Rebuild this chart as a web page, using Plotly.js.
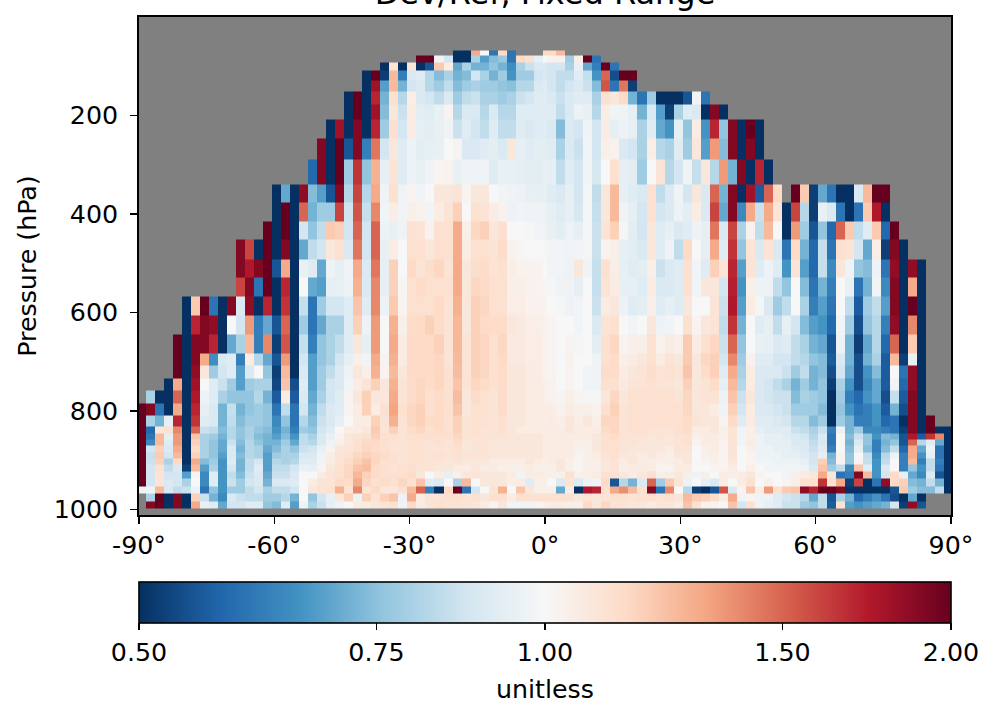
<!DOCTYPE html>
<html>
<head>
<meta charset="utf-8">
<script src="https://cdn.plot.ly/plotly-3.0.1.min.js"></script>
<style>html,body{margin:0;padding:0;background:#fff}#c{width:988px;height:703px}</style>
</head>
<body>
<div id="c"></div>
<script>
// Latitude bin edges (deg) and pressure bin edges (hPa)
const latEdges = [-90,-88.5,-86.5,-84.5,-82.5,-80.5,-78.5,-76.5,-74.5,-72.5,-70.5,-68.5,-66.5,-64.5,-62.5,-60.5,-58.5,-56.5,-54.5,-52.5,-50.5,-48.5,-46.5,-44.5,-42.5,-40.5,-38.5,-36.5,-34.5,-32.5,-30.5,-28.5,-26.5,-24.5,-22.5,-20.5,-18.5,-16.5,-14.5,-12.5,-10.5,-8.5,-6.5,-4.5,-2.5,-0.5,0.5,2.5,4.5,6.5,8.5,10.5,12.5,14.5,16.5,18.5,20.5,22.5,24.5,26.5,28.5,30.5,32.5,34.5,36.5,38.5,40.5,42.5,44.5,46.5,48.5,50.5,52.5,54.5,56.5,58.5,60.5,62.5,64.5,66.5,68.5,70.5,72.5,74.5,76.5,78.5,80.5,82.5,84.5,86.5,88.5,90];
const pressureEdges = [68,78,92,109,129,151,178,208,247,289,340,377,415,452,492,529,568,606,645,683,708,734,758,785,809,831,846,858,870,884,896,909,923,937,953,968,984,998];
// First latitude bin of each row, top of the atmosphere downward
const rowStart = [35,31,27,25,25,23,23,21,20,19,15,15,14,11,11,11,5,5,4,4,4,3,1,0,0,0,0,0,0,0,0,0,0,0,0,1,1];
// Dev/Ref ratio in percent, one array per pressure row
const r01 = [50,50,130,100,60,115,60,null,null,null,115,115,125];
const r02 = [200,200,98,88,50,50,80,68,74,77,60,115,112,94,100,103,103,78,105,200,60];
const r03 = [50,110,50,108,50,55,120,105,70,80,72,72,76,72,65,80,86,90,90,88,88,80,95,70,62,200,60];
const r04 = [50,200,52,125,62,90,92,82,74,80,72,74,88,80,72,78,66,78,78,88,90,88,84,84,92,85,66,150,54,200,200];
const r05 = [50,180,68,125,72,88,90,82,78,84,74,78,80,78,78,76,75,82,82,90,92,88,84,88,90,86,74,155,60,145,52];
const r06 = [50,200,50,170,72,112,82,105,90,88,84,90,78,84,86,80,80,78,80,86,88,92,92,90,86,90,92,92,80,112,108,115,72,60,78,50,50,50,55,97,60];
const r07 = [50,200,50,180,74,108,86,106,93,92,95,102,82,90,90,82,90,82,82,92,92,92,92,92,84,90,96,95,82,105,98,97,94,72,90,68,52,80,92,90,50,190,50];
const r08 = [50,180,50,190,50,170,78,112,88,106,94,93,95,97,86,92,88,84,92,84,84,92,90,92,92,90,74,90,88,97,88,106,94,96,94,80,92,70,66,94,76,106,66,170,76,190,50,200,50];
const r09 = [190,50,200,55,190,62,145,88,108,92,96,93,94,95,100,102,90,90,92,93,90,108,94,92,93,93,92,80,90,86,98,88,104,103,90,88,80,105,82,80,92,78,108,68,135,74,190,50,190,50];
const r10 = [58,190,50,200,78,165,76,128,94,110,92,96,95,97,102,103,95,97,97,97,92,95,95,94,93,93,95,94,84,92,88,98,89,100,112,94,93,78,100,110,82,88,97,85,108,82,135,72,190,50,170,50];
const r11 = [50,70,50,185,74,68,55,190,82,160,82,130,97,112,97,102,98,100,108,108,110,102,108,108,100,98,97,96,95,94,95,92,90,94,88,99,84,108,125,94,92,90,112,84,90,97,88,108,90,150,72,190,50,180,56,150,115,null,200,120,52,70,60,50,50,90,125,200,200];
const r12 = [50,200,50,150,72,78,78,160,87,155,85,140,98,105,98,104,103,98,106,110,118,100,112,110,106,103,96,98,97,97,96,94,92,94,89,99,85,108,125,97,94,88,112,88,90,96,93,106,90,160,70,190,64,130,86,130,110,50,160,82,52,95,90,60,50,60,120,175,50];
const r13 = [200,50,200,50,88,76,84,120,118,88,150,88,150,96,95,97,112,110,103,112,112,130,104,116,118,108,112,100,100,99,98,97,95,93,96,94,99,86,110,118,99,93,88,108,92,94,90,92,96,94,145,90,160,80,103,84,125,100,50,135,78,55,76,58,150,120,84,92,120,58,200];
const r14 = [190,160,50,200,50,190,50,70,84,88,108,112,90,145,88,150,95,105,100,112,112,108,112,112,130,106,112,112,110,114,103,101,100,100,99,98,98,97,98,99,86,103,104,94,93,90,108,92,97,84,115,100,94,130,92,165,76,110,90,110,90,60,115,72,58,85,60,112,110,88,70,105,52,190,50];
const r15 = [190,175,190,200,55,130,50,95,92,70,96,94,97,130,90,145,94,118,100,115,110,113,116,110,130,108,113,114,110,112,105,103,103,102,100,98,98,96,108,97,85,112,105,94,92,93,104,86,90,92,112,98,92,118,110,170,68,110,92,96,92,66,110,68,58,85,64,108,97,76,74,96,60,185,50,185,50];
const r16 = [160,190,60,200,50,170,50,100,70,68,94,95,96,128,90,140,94,118,101,112,114,112,112,112,130,108,116,115,112,112,104,104,103,102,101,99,97,97,94,100,85,110,106,94,94,92,106,90,90,92,112,98,108,108,88,172,66,104,96,96,84,76,100,74,60,72,62,100,95,60,72,98,64,190,50,130,50];
const r17 = [50,120,200,60,50,190,90,185,50,170,50,165,50,85,60,78,88,88,92,122,92,140,96,120,102,112,112,112,115,110,128,108,118,116,112,112,105,105,103,103,102,100,99,96,98,100,86,106,108,96,92,93,104,92,94,92,108,100,100,110,86,175,68,106,99,90,78,84,100,80,62,68,60,100,84,56,78,84,68,190,50,200,50];
const r18 = [50,170,190,185,50,100,88,135,62,70,55,150,50,78,60,70,80,80,92,118,96,135,100,128,104,114,115,118,114,110,126,108,118,115,114,114,108,107,105,104,103,102,100,100,98,100,90,110,112,100,98,100,108,96,98,100,112,102,108,110,84,165,72,100,92,94,84,94,88,74,68,66,58,98,78,54,76,82,62,185,50,140,50];
const r19 = [200,50,190,190,170,50,70,80,125,62,140,52,155,50,85,62,76,80,84,92,108,94,135,100,130,106,115,115,115,118,110,126,110,118,116,112,116,107,107,105,105,103,102,100,102,99,100,93,112,116,102,104,104,112,103,106,104,120,106,112,116,86,150,76,100,95,94,90,92,84,80,72,70,55,96,72,52,70,82,58,150,50,120,50];
const r20 = [200,50,190,130,65,90,92,62,105,82,70,55,135,50,88,68,76,80,88,94,104,98,130,102,128,106,115,115,115,116,110,125,110,118,116,112,115,107,107,105,105,103,102,100,103,100,100,97,112,114,104,106,108,112,106,110,108,120,108,116,118,88,140,78,103,92,92,88,88,84,82,76,74,56,90,72,54,72,80,56,125,52,95,50];
const r21 = [200,50,185,108,78,88,92,68,90,100,76,52,125,50,90,68,78,84,90,96,108,104,128,102,125,108,115,115,115,116,112,124,110,118,116,112,114,108,108,106,105,103,102,100,102,100,98,97,114,114,106,108,110,113,110,112,110,122,108,114,118,92,130,80,106,90,90,90,86,78,84,72,74,54,88,70,54,66,74,56,100,60,185,50];
const r22 = [50,130,50,180,100,92,86,78,68,78,80,80,53,122,54,92,68,78,88,90,98,106,110,118,108,128,110,114,116,114,116,112,122,110,116,114,112,114,108,108,106,106,104,103,100,102,100,97,97,112,112,107,110,110,112,110,110,108,118,108,110,114,94,125,82,106,90,88,84,80,72,78,72,76,52,80,66,54,64,70,56,98,58,185,50];
const r23 = [80,50,50,150,50,175,96,92,80,76,76,76,82,72,56,106,56,90,70,80,88,92,102,108,118,108,108,130,110,114,116,112,114,112,124,108,114,112,110,114,108,108,106,106,104,103,102,104,102,99,99,108,116,108,112,112,112,112,112,110,116,108,110,110,96,122,86,108,90,88,86,86,74,80,78,76,50,78,62,58,66,70,54,85,56,190,50];
const r24 = [200,190,60,50,130,50,170,94,90,72,85,72,76,78,76,60,84,60,88,72,84,90,92,102,106,118,106,112,132,112,116,118,112,115,112,122,108,112,112,110,114,108,108,106,106,105,105,103,106,104,104,103,112,118,110,112,112,112,112,112,112,116,108,108,106,97,118,88,106,90,90,88,86,78,78,78,74,50,76,66,60,62,66,56,72,54,190,50];
const r25 = [200,80,72,94,170,50,165,92,90,72,84,74,78,78,76,64,76,60,82,74,86,90,94,100,106,106,118,110,128,110,116,118,114,115,112,118,110,112,112,110,112,108,108,106,106,105,106,104,108,105,108,104,116,116,110,112,112,112,112,112,112,114,110,108,108,102,115,92,106,92,92,90,88,82,82,74,78,50,78,72,62,62,66,58,60,50,190,50,200];
const r26 = [200,58,108,112,140,50,150,86,84,74,82,76,80,76,74,66,72,62,78,76,88,92,100,106,106,108,120,110,118,110,114,116,112,114,112,118,110,112,110,110,112,108,106,106,106,106,106,106,108,106,106,106,114,116,110,112,112,110,110,110,112,114,106,106,108,104,110,97,104,94,92,92,92,86,84,80,86,62,96,72,78,64,64,62,60,52,190,50,200,50,50];
const r27 = [200,60,125,94,135,50,122,80,78,72,82,76,80,74,72,68,74,66,84,80,90,95,102,108,110,112,118,112,112,110,112,112,112,112,112,116,110,110,110,110,110,108,108,108,108,106,106,106,106,106,106,108,112,114,110,110,110,108,110,108,110,112,104,106,106,104,110,98,104,96,94,94,92,90,88,82,90,60,100,74,86,76,66,74,72,55,175,56,165,140,50];
const r28 = [200,64,125,92,135,50,118,80,76,70,86,74,82,76,72,72,78,70,84,82,90,97,104,108,112,115,115,112,110,110,112,112,110,112,110,114,108,110,110,108,108,108,108,108,108,106,106,106,106,104,104,108,112,112,110,110,108,108,108,108,110,112,102,106,106,102,110,98,106,96,94,94,94,90,90,84,90,60,100,72,90,76,62,72,76,55,150,82,92,70,50];
const r29 = [200,88,118,90,130,50,115,80,76,70,90,72,82,80,70,74,80,76,86,88,95,102,108,110,112,116,114,112,110,110,112,112,110,110,110,112,108,110,110,108,108,108,108,108,108,106,106,106,106,104,104,108,112,112,110,108,108,108,108,106,110,110,100,104,106,102,110,100,104,96,96,94,94,92,90,86,92,62,100,74,94,74,62,74,84,58,130,70,96,60,50];
const r30 = [200,85,120,88,125,50,118,80,76,68,90,74,82,80,68,78,80,80,90,90,97,106,110,112,116,118,116,114,112,110,112,112,110,112,110,112,110,110,110,108,108,108,108,108,108,106,106,106,106,102,104,106,110,112,108,108,106,108,106,104,108,108,100,104,104,102,110,100,102,96,96,96,94,94,92,88,94,72,102,76,100,84,64,82,96,62,130,66,94,60,50];
const r31 = [200,86,118,80,115,50,130,74,78,66,92,72,84,88,68,82,80,82,92,92,98,106,110,114,118,122,116,112,112,110,112,112,110,110,108,110,108,108,108,106,106,106,106,108,106,104,106,108,104,102,104,104,108,110,106,108,106,106,104,104,106,108,100,102,104,102,108,100,102,98,98,96,96,96,94,88,118,74,102,76,102,85,66,84,100,62,125,62,84,62,50];
const r32 = [200,88,112,84,90,52,125,68,80,66,88,72,84,92,68,84,84,88,95,94,102,108,112,116,122,124,114,112,110,112,112,110,110,108,108,106,106,108,106,106,104,104,104,106,104,104,104,108,104,102,104,104,108,110,104,106,106,106,102,102,106,106,100,100,102,102,106,100,104,100,98,98,98,98,96,90,122,78,84,64,122,92,66,90,100,62,76,66,84,60,50];
const r33 = [200,88,110,88,88,68,102,64,92,66,84,74,86,90,70,86,86,90,100,100,106,110,112,116,126,118,114,112,112,112,114,108,100,106,94,104,108,110,108,108,108,106,98,106,106,104,104,104,112,104,104,106,112,112,108,106,108,112,104,106,108,104,97,104,100,106,104,106,108,102,100,100,98,104,106,108,130,108,60,62,190,125,66,88,115,94,70,64,90,55,50];
const r34 = [200,88,110,90,88,80,100,64,92,66,86,78,88,90,72,90,90,92,100,106,110,110,115,114,130,116,112,114,112,116,112,122,92,90,100,80,125,100,108,108,108,104,106,92,104,104,100,90,110,90,96,98,115,55,82,72,90,150,78,120,110,96,100,94,90,106,100,106,112,100,104,100,102,104,112,112,165,112,130,52,160,50,60,185,115,118,74,72,84,72,50];
const r35 = [97,97,125,90,84,86,96,60,76,66,78,78,84,88,80,84,84,88,100,108,110,112,128,110,140,110,115,108,108,112,125,150,62,50,115,200,60,88,100,110,128,100,122,108,104,104,104,70,106,50,175,170,112,130,138,125,112,190,60,140,100,82,52,50,55,155,90,102,122,105,135,112,120,122,185,170,200,200,190,50,50,50,50,50,55,120,78,74,74,84,50];
const r36 = [80,200,50,190,50,118,86,72,64,90,86,84,84,78,78,82,72,100,76,88,95,108,118,96,118,110,118,122,96,130,106,110,110,112,112,110,112,108,112,112,106,112,112,112,112,112,112,112,108,110,108,110,112,112,110,112,112,110,112,110,125,120,118,114,106,130,97,102,97,96,92,88,86,82,70,84,55,80,72,58,62,66,60,54,50,70,50];
const r37 = [190,200,50,190,50,130,95,92,70,88,88,92,92,76,74,92,68,97,80,86,94,97,100,106,106,108,110,112,97,115,106,110,112,110,110,110,108,106,102,108,98,98,97,102,104,106,106,104,104,115,108,116,110,110,108,108,106,108,108,106,122,112,103,103,100,122,88,112,97,94,92,86,86,78,76,84,56,110,68,66,68,70,72,88,52,186,55];
const rows = [r01,r02,r03,r04,r05,r06,r07,r08,r09,r10,r11,r12,r13,r14,r15,r16,r17,r18,r19,r20,r21,r22,r23,r24,r25,r26,r27,r28,r29,r30,r31,r32,r33,r34,r35,r36,r37];
const colorStops = ['#053061','#2166ac','#4393c3','#92c5de','#d1e5f0','#f7f7f7','#fddbc7','#f4a582','#d6604d','#b2182b','#67001f'];
const cbValues = [0.5,0.75,1,1.5,2];
const cbLabels = ['0.50','0.75','1.00','1.50','2.00'];
const latTicks = [-90,-60,-30,0,30,60,90];
const latLabels = ['-90°','-60°','-30°','0°','30°','60°','90°'];
const pressureTicks = [200,400,600,800,1000];

const nCols = latEdges.length - 1;
const z = rows.map((r,i)=>{
  const out = new Array(nCols).fill(null);
  r.forEach((v,j)=>{ if(v!==null && rowStart[i]+j<nCols) out[rowStart[i]+j] = Math.log10(v/100); });
  return out;
});
const font = {family:'"DejaVu Sans", sans-serif', size:25.3, color:'#000'};
const trace = {
  type:'heatmap', x:latEdges, y:pressureEdges, z:z,
  zmin:Math.log10(0.5), zmax:Math.log10(2), hoverongaps:false,
  colorscale:colorStops.map((c,i)=>[i/10,c]),
  colorbar:{
    orientation:'h', x:0.5, xanchor:'center', xref:'paper', len:1, lenmode:'fraction',
    y:-0.1345, yref:'paper', yanchor:'top', thickness:41, thicknessmode:'pixels',
    xpad:0, ypad:0, outlinecolor:'#000', outlinewidth:1.6,
    tickmode:'array', tickvals:cbValues.map(v=>Math.log10(v)), ticktext:cbLabels,
    ticks:'outside', ticklen:7, tickwidth:1.6, tickcolor:'#000', tickfont:font
  }
};
const axisCommon = {showgrid:false, zeroline:false, showline:true, linecolor:'#000', linewidth:1.8, mirror:true,
  ticks:'outside', ticklen:7, tickwidth:1.6, tickcolor:'#000', tickfont:font};
const layout = {
  width:988, height:703, margin:{l:139,r:37,t:17,b:188,autoexpand:false},
  paper_bgcolor:'#fff', plot_bgcolor:'#808080', font:font,
  title:{text:'Dev/Ref, Fixed Range', font:{family:font.family,size:32,color:'#000'}, x:0.5, xref:'paper', xanchor:'center', y:0.995, yref:'container', yanchor:'bottom'},
  xaxis:Object.assign({}, axisCommon, {range:[-90,90], tickmode:'array', tickvals:latTicks, ticktext:latLabels, layer:'above traces'}),
  yaxis:Object.assign({}, axisCommon, {range:[1011,0], tickmode:'array', tickvals:pressureTicks, ticktext:pressureTicks.map(String), layer:'above traces', ticklabelstandoff:7,
    title:{text:'Pressure (hPa)', font:font, standoff:10}}),
  annotations:[{text:'unitless', xref:'paper', x:0.5, xanchor:'center', yref:'paper', y:(515-689)/498, yanchor:'middle', showarrow:false, font:font}]
};
Plotly.newPlot('c',[trace],layout,{displayModeBar:false,staticPlot:true});
</script>
</body>
</html>
